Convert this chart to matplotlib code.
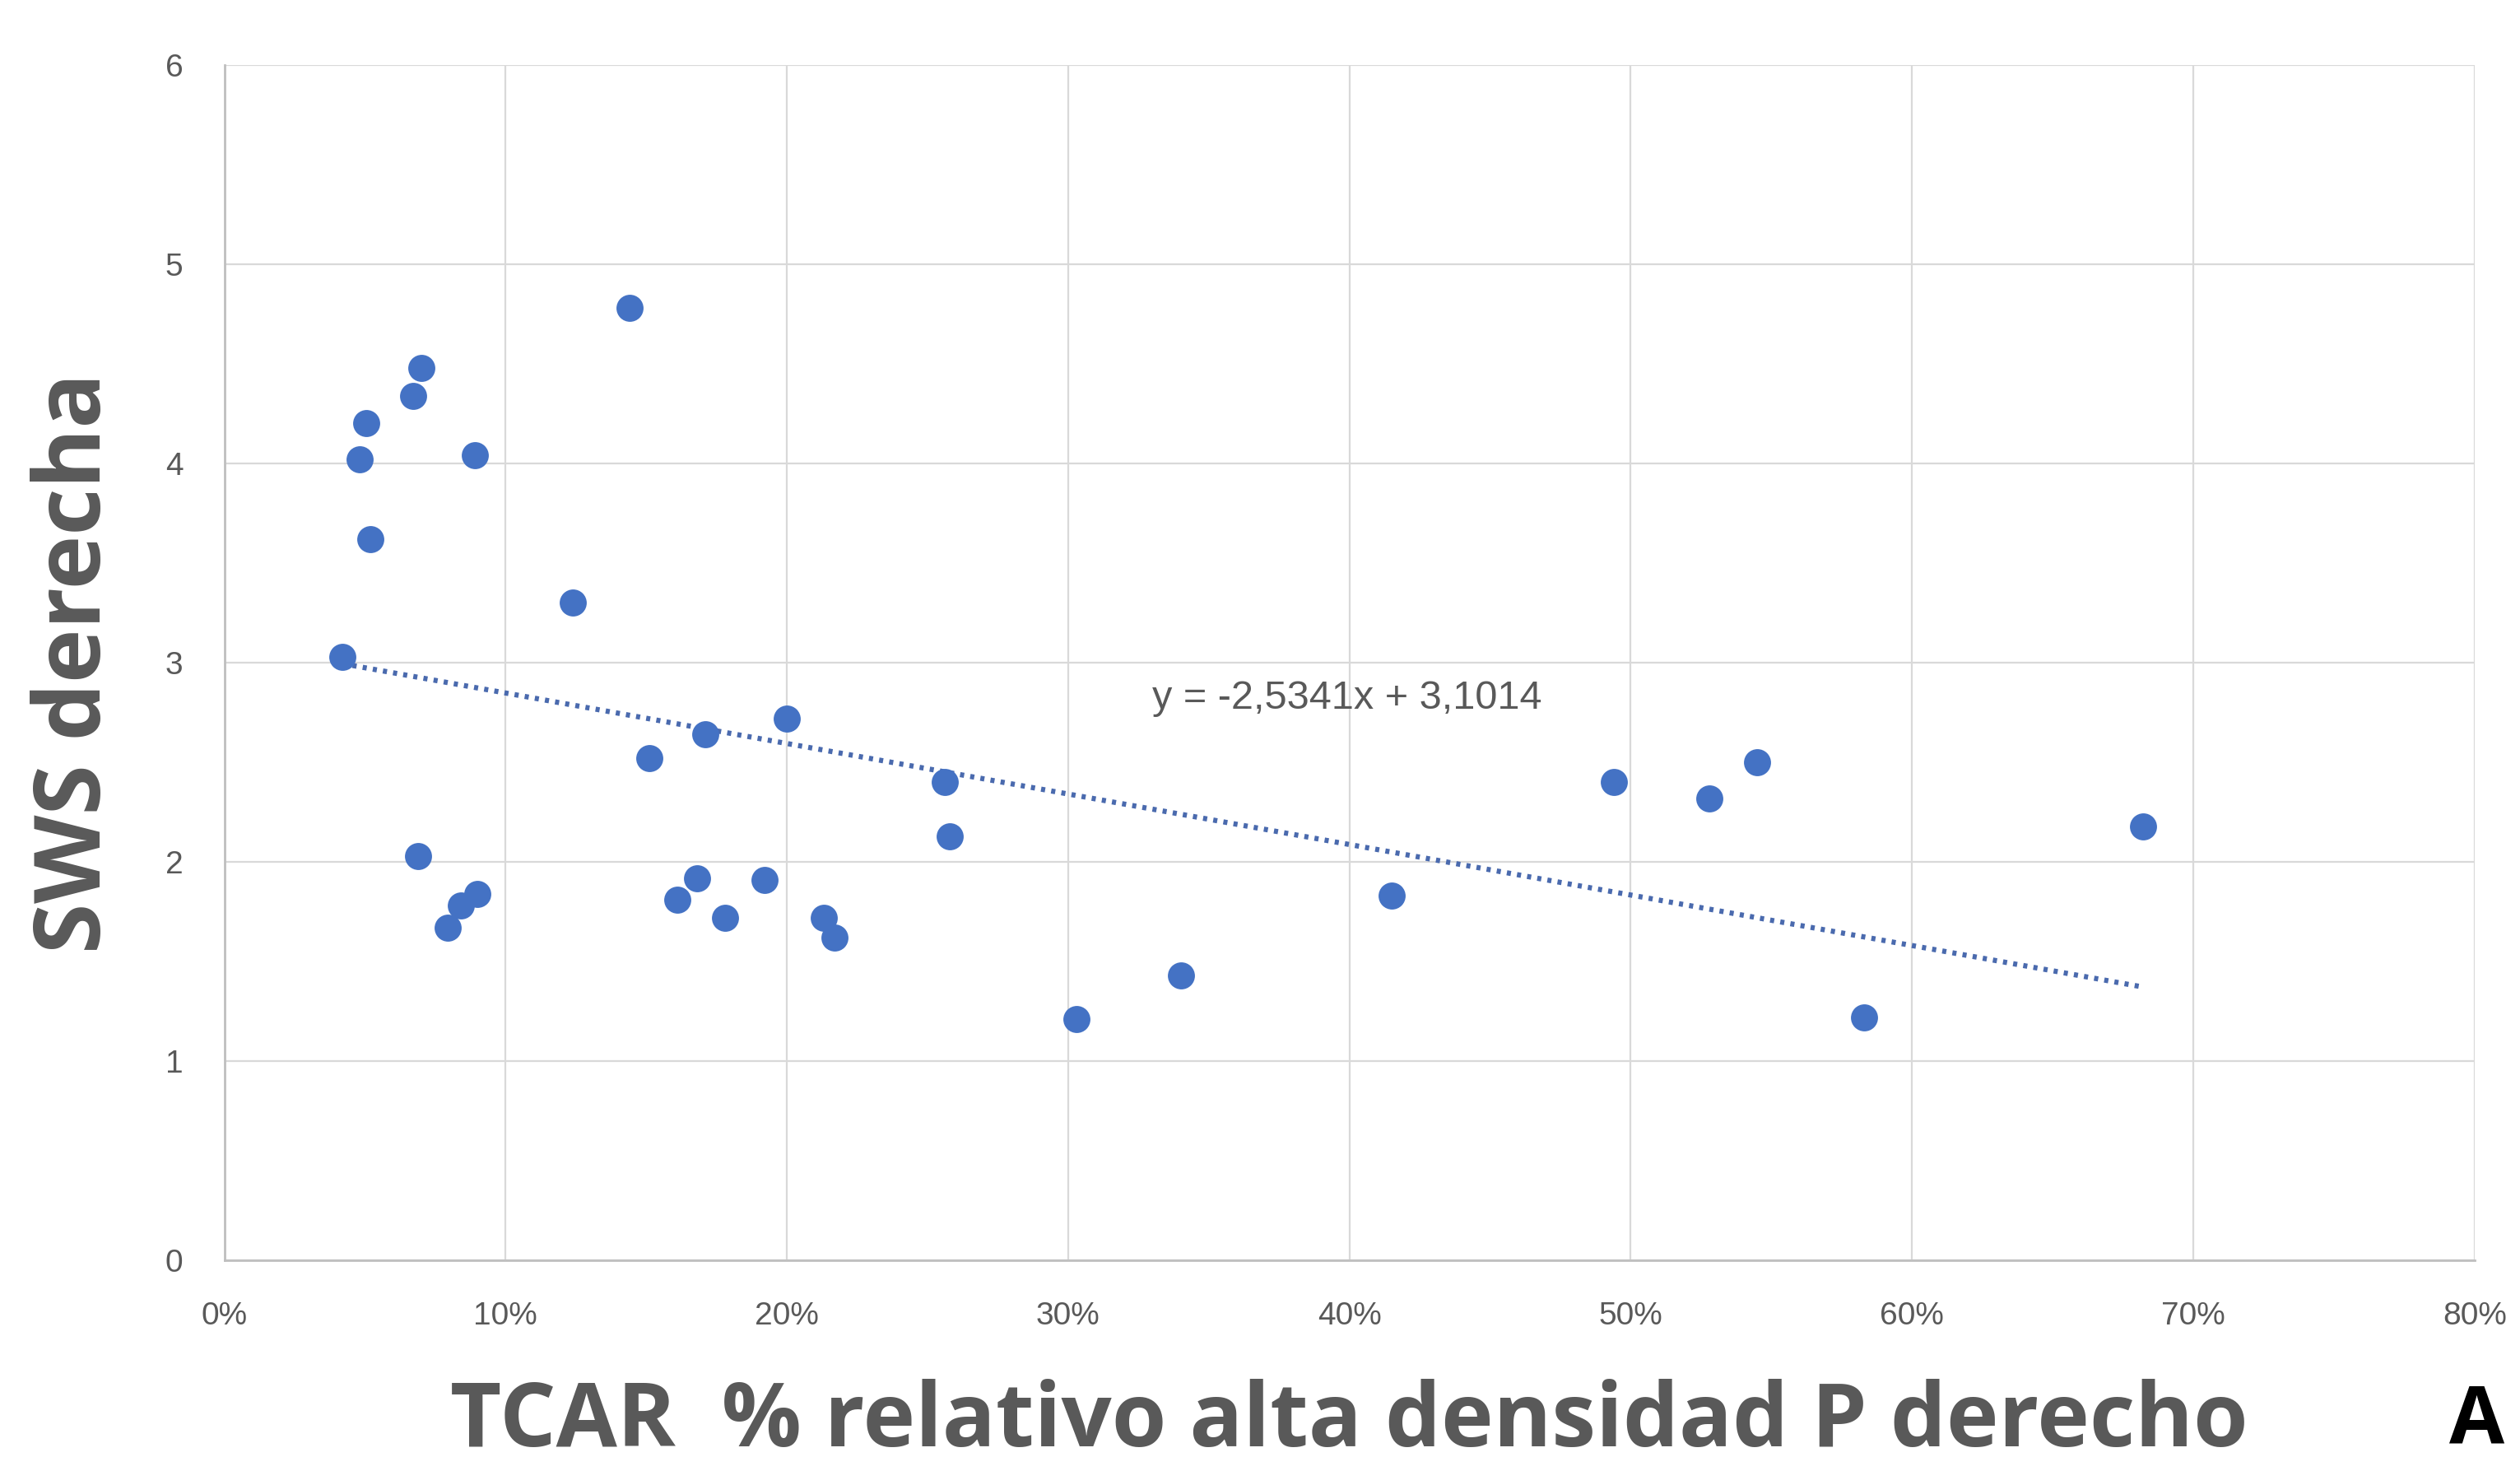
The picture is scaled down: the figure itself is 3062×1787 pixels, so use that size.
import numpy as np
import matplotlib
matplotlib.use('Agg')
import matplotlib.pyplot as plt
from matplotlib.ticker import PercentFormatter

# datos (x en fracción, y = SWS)
tcar = [0.042, 0.048, 0.0505, 0.052, 0.067, 0.070, 0.089, 0.069, 0.0795, 0.084, 0.090,
        0.124, 0.144, 0.151, 0.161, 0.168, 0.171, 0.178, 0.192, 0.200, 0.213, 0.217,
        0.256, 0.258, 0.303, 0.340, 0.415, 0.494, 0.528, 0.545, 0.583, 0.682]
sws = [3.03, 4.02, 4.20, 3.62, 4.34, 4.48, 4.04, 2.03, 1.67, 1.78, 1.84,
       3.30, 4.78, 2.52, 1.81, 1.92, 2.64, 1.72, 1.91, 2.72, 1.72, 1.62,
       2.40, 2.13, 1.21, 1.43, 1.83, 2.40, 2.32, 2.50, 1.22, 2.18]
slope, intercept = -2.5341, 3.1014
x_ticks = [0, 0.1, 0.2, 0.3, 0.4, 0.5, 0.6, 0.7, 0.8]
y_ticks = [0, 1, 2, 3, 4, 5, 6]

blue = '#4472C4'
gray_txt = '#595959'
tick_font = ['Liberation Sans Narrow', 'Liberation Sans', 'DejaVu Sans']

fig = plt.figure(figsize=(30.62, 17.87), dpi=100)
ax = fig.add_axes([0.089, 0.143, 0.893, 0.813])

ax.scatter(tcar, sws, s=560, color=blue, zorder=3, linewidths=0)

xs = np.array([min(tcar), max(tcar)])
ax.plot(xs, slope * xs + intercept, color='#4A6AAE', lw=4.5, ls=(0, (0.8, 1.2)),
        dash_capstyle='butt', zorder=2)
ax.text(0.33, 2.82, 'y = -2,5341x + 3,1014', fontsize=35, color=gray_txt,
        family=tick_font, ha='left', va='center')

ax.set_xlim(0, 0.8); ax.set_ylim(0, 6)
ax.set_xticks(x_ticks); ax.set_yticks(y_ticks)
ax.xaxis.set_major_formatter(PercentFormatter(1.0, decimals=0))
ax.grid(True, color='#D9D9D9', lw=1.6)
ax.set_axisbelow(True)
for s in ['top', 'right']:
    ax.spines[s].set_visible(False)
for s in ['left', 'bottom']:
    ax.spines[s].set_color('#BFBFBF'); ax.spines[s].set_linewidth(2)
ax.tick_params(length=0, pad=36, labelsize=28, labelcolor=gray_txt)
for lab in ax.get_xticklabels() + ax.get_yticklabels():
    lab.set_family(tick_font)

ax.set_ylabel('SWS derecha', fontsize=80, fontweight='bold', color=gray_txt,
              family=['Open Sans', 'DejaVu Sans'], va='center')
ax.yaxis.set_label_coords(-0.0655, 0.5)
ax.set_xlabel('TCAR  % relativo alta densidad P derecho', fontsize=77.5, fontweight='bold',
              color=gray_txt, family=['Open Sans', 'DejaVu Sans'], va='center')
ax.xaxis.set_label_coords(0.5, -0.136)

fig.text(0.983, 0.033, 'A', fontsize=70, fontweight='bold', color='black',
         family=['Open Sans', 'DejaVu Sans'], ha='center', va='center')

fig.savefig('out.png', dpi=100, facecolor='white')
